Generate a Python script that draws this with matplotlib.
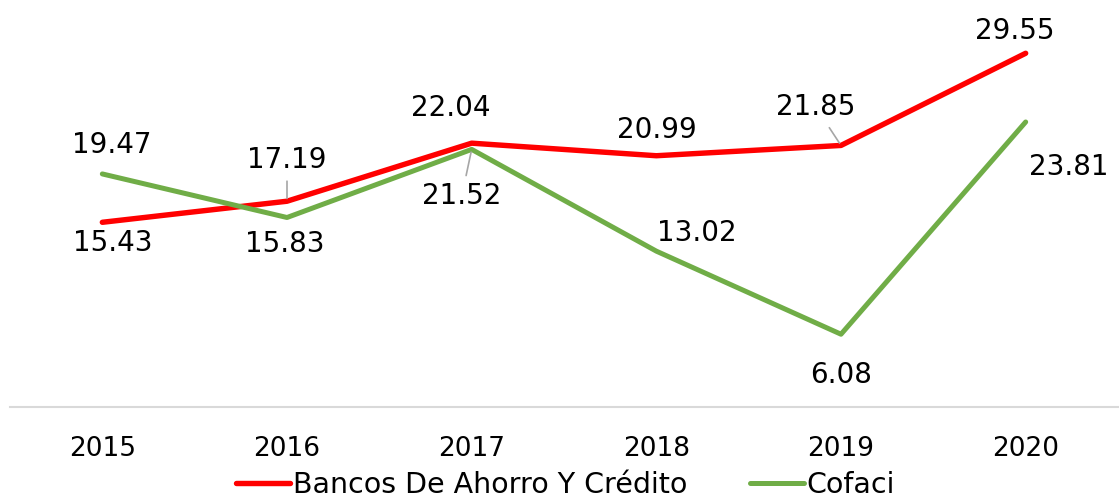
import matplotlib
matplotlib.use("Agg")
import matplotlib.pyplot as plt

years = ["2015", "2016", "2017", "2018", "2019", "2020"]
bancos = [15.43, 17.19, 22.04, 20.99, 21.85, 29.55]
cofaci = [19.47, 15.83, 21.52, 13.02, 6.08, 23.81]
series_names = ["Bancos De Ahorro Y Crédito", "Cofaci"]

# label offsets in pixels (dx, dy) and whether a leader line is drawn
bancos_off = [(10, -21), (0, 41), (-21, 35), (1, 26), (-25, 38), (-11, 22)]
bancos_lead = [False, True, False, False, True, False]
cofaci_off = [(9, 29), (-2, -26), (-10, -47), (40, 18), (0, -41), (43, -45)]
cofaci_lead = [False, False, True, False, False, False]

plt.rcParams['font.family'] = ['DejaVu Sans']

fig = plt.figure(figsize=(11.2, 4.97), dpi=100)
ax = fig.add_axes([10/1120, 90/497, 1108/1120, 407/497])
x = list(range(len(years)))
ax.plot(x, bancos, color="#FF0000", lw=3.9, solid_capstyle="round", label=series_names[0], clip_on=False)
ax.plot(x, cofaci, color="#70AD47", lw=3.6, solid_capstyle="round", label=series_names[1], clip_on=False)

ax.set_xlim(-0.5, 5.5)
ax.set_ylim(0, 34)
ax.set_xticks(x)
ax.set_xticklabels(years, fontsize=19)
ax.tick_params(axis="x", length=0, pad=21)
ax.set_yticks([])
for s in ["top", "right", "left"]:
    ax.spines[s].set_visible(False)
ax.spines["bottom"].set_color("#D9D9D9")
ax.spines["bottom"].set_linewidth(1.5)

def label(vals, offs, leads):
    for i, v in enumerate(vals):
        dx, dy = offs[i]
        kw = {}
        if leads[i]:
            kw["arrowprops"] = dict(arrowstyle="-", color="#A6A6A6", lw=1.2,
                                    shrinkA=3, shrinkB=2)
        ax.annotate(f"{v:.2f}", xy=(i, v), xytext=(dx, dy), textcoords="offset pixels",
                    ha="center", va="center", fontsize=20, color="#000000",
                    annotation_clip=False, **kw)

label(bancos, bancos_off, bancos_lead)
label(cofaci, cofaci_off, cofaci_lead)

fig.legend(loc="center", bbox_to_anchor=(0.505, 12/497), ncol=2, frameon=False,
           fontsize=20.5, handlelength=1.9, handletextpad=0.1, columnspacing=2.2,
           borderpad=0)

fig.savefig("out.png", dpi=100)
